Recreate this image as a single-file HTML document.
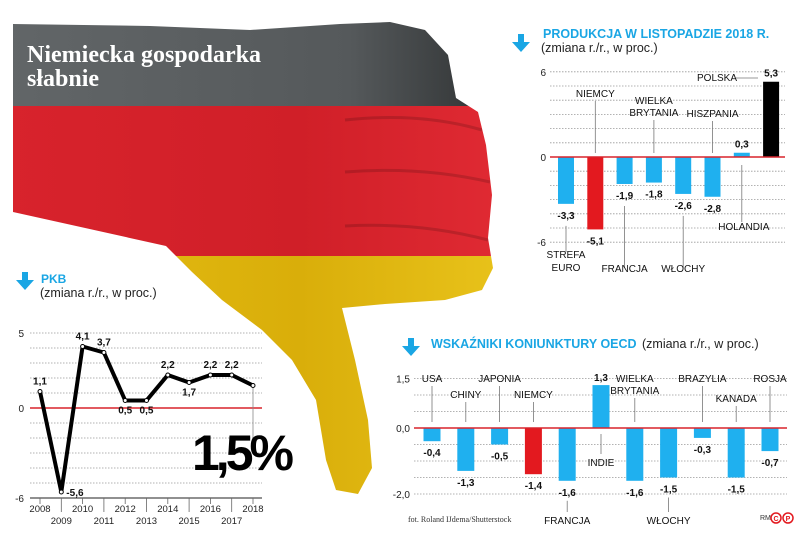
<!DOCTYPE html>
<html><head><meta charset="utf-8">
<style>
html,body{margin:0;padding:0;background:#fff;}
svg{display:block;font-family:"Liberation Sans",sans-serif;}
</style></head>
<body>
<svg width="805" height="539" viewBox="0 0 805 539" xmlns="http://www.w3.org/2000/svg">
<defs>
<clipPath id="hand">
<path d="M13,24 L150,26 L250,30 L340,24 L390,22 L425,30 L448,55 L456,98 L478,112 L486,145 L492,195 L488,238 L493,268 L482,290 L445,300 L385,304 L342,308 L355,360 L368,420 L372,468 L358,494 L336,490 L326,460 L316,400 L292,360 L262,330 L222,300 L192,272 L166,246 L13,212 Z"/>
</clipPath>
<linearGradient id="gblack" x1="0" x2="1" y1="0" y2="0"><stop offset="0" stop-color="#626668"/><stop offset="0.7" stop-color="#55595b"/><stop offset="1" stop-color="#2e3132"/></linearGradient>
<linearGradient id="gred" x1="0" x2="1"><stop offset="0" stop-color="#d8232c"/><stop offset="0.6" stop-color="#d01f28"/><stop offset="1" stop-color="#e02a33"/></linearGradient>
<linearGradient id="gyel" x1="0" x2="1"><stop offset="0" stop-color="#e6bf14"/><stop offset="0.6" stop-color="#d9ae0a"/><stop offset="1" stop-color="#e8c21a"/></linearGradient>
</defs>

<g clip-path="url(#hand)">
<rect x="0" y="0" width="500" height="106" fill="url(#gblack)"/>
<rect x="0" y="106" width="500" height="150" fill="url(#gred)"/>
<rect x="0" y="256" width="500" height="250" fill="url(#gyel)"/>
<path d="M345,120 Q420,112 482,130 M345,172 Q420,166 490,182 M345,226 Q420,222 488,240" stroke="rgba(0,0,0,0.15)" stroke-width="3" fill="none"/>
</g>

<text x="27" y="62" fill="#fff" font-family="'Liberation Serif',serif" font-weight="bold" font-size="24">Niemiecka gospodarka</text>
<text x="27" y="86" fill="#fff" font-family="'Liberation Serif',serif" font-weight="bold" font-size="24">słabnie</text>

<!-- PKB -->
<g>
<path d="M22,272 h6 v8 h6 l-9,10 l-9,-10 h6 z" fill="#1aa6e4"/>
<text x="41" y="283" fill="#1aa6e4" font-weight="bold" font-size="12">PKB</text>
<text x="40" y="297" fill="#222" font-size="12.5">(zmiana r./r., w proc.)</text>
<g id="pkb"></g>
<text x="192" y="470" fill="#000" font-weight="bold" font-size="50" letter-spacing="-4">1,5%</text>
</g>

<!-- Produkcja -->
<g>
<path d="M518,34 h6 v8 h6 l-9,10 l-9,-10 h6 z" fill="#1aa6e4"/>
<text x="543" y="38" fill="#1aa6e4" font-weight="bold" font-size="12.5">PRODUKCJA W LISTOPADZIE 2018 R.</text>
<text x="541" y="52" fill="#222" font-size="12.5">(zmiana r./r., w proc.)</text>
<g id="prod"></g>
</g>

<!-- OECD -->
<g>
<path d="M408,338 h6 v8 h6 l-9,10 l-9,-10 h6 z" fill="#1aa6e4"/>
<text x="431" y="348" fill="#1aa6e4" font-weight="bold" font-size="12.5">WSKAŹNIKI KONIUNKTURY OECD</text>
<text x="642" y="348" fill="#222" font-size="12.5">(zmiana r./r., w proc.)</text>
<g id="oecd"></g>
</g>

<text x="408" y="522" fill="#333" font-family="'Liberation Serif',serif" font-size="8">fot. Roland IJdema/Shutterstock</text>
<text x="760" y="520" fill="#333" font-size="7">RM</text>
<circle cx="776" cy="518" r="5" fill="none" stroke="#e3191f" stroke-width="1.5"/>
<circle cx="788" cy="518" r="5" fill="none" stroke="#e3191f" stroke-width="1.5"/>
<text x="776" y="521" fill="#e3191f" font-size="7" font-weight="bold" text-anchor="middle">C</text>
<text x="788" y="521" fill="#e3191f" font-size="7" font-weight="bold" text-anchor="middle">P</text>
</svg>

<script>
const NS="http://www.w3.org/2000/svg";
// PKB data
const pkbYears=["2008","2009","2010","2011","2012","2013","2014","2015","2016","2017","2018"];
const pkbValues=[1.1,-5.6,4.1,3.7,0.5,0.5,2.2,1.7,2.2,2.2,1.5];
const pkbLabels=["1,1","-5,6","4,1","3,7","0,5","0,5","2,2","1,7","2,2","2,2",""];
const pkbTicks=[5,0,-6];
// Production data
const prodCountries=["STREFA EURO","NIEMCY","FRANCJA","WIELKA BRYTANIA","WŁOCHY","HISZPANIA","HOLANDIA","POLSKA"];
const prodValues=[-3.3,-5.1,-1.9,-1.8,-2.6,-2.8,0.3,5.3];
const prodLabels=["-3,3","-5,1","-1,9","-1,8","-2,6","-2,8","0,3","5,3"];
const prodTicks=[6,0,-6];
// OECD data
const oecdCountries=["USA","CHINY","JAPONIA","NIEMCY","FRANCJA","INDIE","WIELKA BRYTANIA","WŁOCHY","BRAZYLIA","KANADA","ROSJA"];
const oecdValues=[-0.4,-1.3,-0.5,-1.4,-1.6,1.3,-1.6,-1.5,-0.3,-1.5,-0.7];
const oecdLabels=["-0,4","-1,3","-0,5","-1,4","-1,6","1,3","-1,6","-1,5","-0,3","-1,5","-0,7"];
const oecdTicks=["1,5","0,0","-2,0"];
const oecdTickVals=[1.5,0,-2];

function mk(parent,tag,attrs,txt){const e=document.createElementNS(NS,tag);for(const k in attrs)e.setAttribute(k,attrs[k]);if(txt!==undefined)e.textContent=txt;parent.appendChild(e);return e;}

// ---- PKB
(function(){
const g=document.getElementById('pkb');
const y=v=>408-v*15, x=i=>40+i*21.3;
for(let v=5;v>=-5;v--){if(v===0)continue;const l=mk(g,'line',{x1:30,x2:262,y1:y(v),y2:y(v),stroke:'#999','stroke-width':0.8,'stroke-dasharray':'1.5,1.5'});

}
pkbTicks.forEach(v=>{const t=mk(g,'text',{x:24,y:y(v)+4,'font-size':10,'text-anchor':'end',fill:'#222'},String(v));

});
const z=mk(g,'line',{x1:30,x2:262,y1:y(0),y2:y(0),stroke:'#d8232c','stroke-width':1.5});


const ax=mk(g,'line',{x1:30,x2:262,y1:y(-6),y2:y(-6),stroke:'#222','stroke-width':1});


pkbYears.forEach((yr,i)=>{
 const tk=mk(g,'line',{x1:x(i),x2:x(i),y1:y(-6),y2:y(-6)+(i%2?14:6),stroke:'#666','stroke-width':0.8});
 
 
 const t=mk(g,'text',{x:x(i),y:i%2?524:512,'font-size':9.5,'text-anchor':'middle',fill:'#222'},yr);
 
 
});
const lead=mk(g,'line',{x1:x(10),x2:x(10),y1:y(pkbValues[10]),y2:y(-2.5),stroke:'#888','stroke-width':0.8});


const pl=mk(g,'polyline',{points:pkbValues.map((v,i)=>x(i)+','+y(v)).join(' '),fill:'none',stroke:'#000','stroke-width':4,'stroke-linejoin':'round'});


pkbValues.forEach((v,i)=>{
 const c=mk(g,'circle',{cx:x(i),cy:y(v),r:2,fill:'#fff',stroke:'#000','stroke-width':1});
 
 
 if(!pkbLabels[i])return;
 let lx=x(i),ly=y(v)-7,anc='middle';
 if(v<0){lx=x(i)+5;ly=y(v)+4;anc='start';}
 else if(i===4||i===5||i===7){ly=y(v)+13;}
 const t=mk(g,'text',{x:lx,y:ly,'font-size':10,'font-weight':'bold','text-anchor':anc,fill:'#111'},pkbLabels[i]);
 
 
});
})();

// ---- Production
(function(){
const g=document.getElementById('prod');
const y=v=>157-v*14.2, x=i=>566+i*29.3;
for(let v=6;v>=-6;v--){if(v===0)continue;const l=mk(g,'line',{x1:550,x2:785,y1:y(v),y2:y(v),stroke:'#999','stroke-width':0.8,'stroke-dasharray':'1.5,1.5'});

}
prodTicks.forEach(v=>{const t=mk(g,'text',{x:546,y:y(v)+4,'font-size':10,'text-anchor':'end',fill:'#222'},String(v));

});
const leaders=[{ly:252,lab:["STREFA","EURO"],ty:[258,271],above:false},{ly:100,lab:["NIEMCY"],ty:[97],above:true},{ly:268,lab:["FRANCJA"],ty:[272],above:false},
{ly:112,lab:["WIELKA","BRYTANIA"],ty:[104,116],above:true},{ly:268,lab:["WŁOCHY"],ty:[272],above:false},{ly:112,lab:["HISZPANIA"],ty:[117],above:true},
{ly:222,lab:["HOLANDIA"],ty:[230],above:false},null];
prodValues.forEach((v,i)=>{
 const cx=x(i);
 const r=mk(g,'rect',{x:cx-8,y:Math.min(y(v),y(0)),width:16,height:Math.abs(y(v)-y(0)),fill:i===1?'#e3191f':(i===7?'#000':'#1fb0ef')});
 
 
 const vy=v<0?y(v)+15:y(v)-5;
 const t=mk(g,'text',{x:cx,y:vy,'font-size':10,'font-weight':'bold','text-anchor':'middle',fill:'#111'},prodLabels[i]);
 
 
 const L=leaders[i];
 if(L){
  const p0=L.above?y(0)-28:(v<0?y(v)+22:y(0)+8);
  const p1=L.above?L.ty[L.ty.length-1]+4:L.ly;
  const ln=mk(g,'line',{x1:cx,x2:cx,y1:L.above?p1:p0,y2:L.above?y(0)-4:p1,stroke:'#777','stroke-width':0.8});
  
  
  L.lab.forEach((s,k)=>{const tt=mk(g,'text',{x:cx+(i===6?2:0),y:L.ty[k],'font-size':10,'text-anchor':'middle',fill:'#111'},s);
  
  });
 }
});
const z=mk(g,'line',{x1:550,x2:785,y1:y(0),y2:y(0),stroke:'#d8232c','stroke-width':1.5});


const pl=mk(g,'text',{x:697,y:81,'font-size':10,fill:'#111'},"POLSKA");


const pa=mk(g,'line',{x1:736,x2:758,y1:78,y2:78,stroke:'#777','stroke-width':0.8});


})();

// ---- OECD
(function(){
const g=document.getElementById('oecd');
const y=v=>428-v*33, x=i=>432+i*33.8;
for(let k=-4;k<=3;k++){if(k===0)continue;const v=k*0.5;const l=mk(g,'line',{x1:414,x2:787,y1:y(v),y2:y(v),stroke:'#999','stroke-width':0.8,'stroke-dasharray':'1.5,1.5'});

}
oecdTickVals.forEach((v,i)=>{const t=mk(g,'text',{x:410,y:y(v)+4,'font-size':10,'text-anchor':'end',fill:'#222'},oecdTicks[i]);

});
const top=[[382],[398],[382],[398],null,null,[382,394],null,[382],[402],[382]];
oecdValues.forEach((v,i)=>{
 const cx=x(i);
 const r=mk(g,'rect',{x:cx-8.5,y:Math.min(y(v),y(0)),width:17,height:Math.abs(y(v)-y(0)),fill:i===3?'#e3191f':'#1fb0ef'});
 
 
 const vy=v<0?y(v)+15:y(v)-4;
 const t=mk(g,'text',{x:cx,y:vy,'font-size':10,'font-weight':'bold','text-anchor':'middle',fill:'#111'},oecdLabels[i]);
 
 
 const name=oecdCountries[i];
 if(top[i]){
  const parts=name==="WIELKA BRYTANIA"?["WIELKA","BRYTANIA"]:[name];
  parts.forEach((s,k)=>{const tt=mk(g,'text',{x:cx,y:top[i][k],'font-size':10,'text-anchor':'middle',fill:'#111'},s);
  
  });
  const ln=mk(g,'line',{x1:cx,x2:cx,y1:top[i][top[i].length-1]+4,y2:y(0)-6,stroke:'#777','stroke-width':0.8});
  
  
 } else {
  const by=name==="INDIE"?466:524;
  const ln=mk(g,'line',{x1:cx,x2:cx,y1:v<0?y(v)+20:y(0)+6,y2:by-12,stroke:'#777','stroke-width':0.8});
  
  
  const tt=mk(g,'text',{x:cx,y:by,'font-size':10,'text-anchor':'middle',fill:'#111'},name);
  
  
 }
});
const z=mk(g,'line',{x1:414,x2:787,y1:y(0),y2:y(0),stroke:'#d8232c','stroke-width':1.5});


})();
</script>
</body></html>
